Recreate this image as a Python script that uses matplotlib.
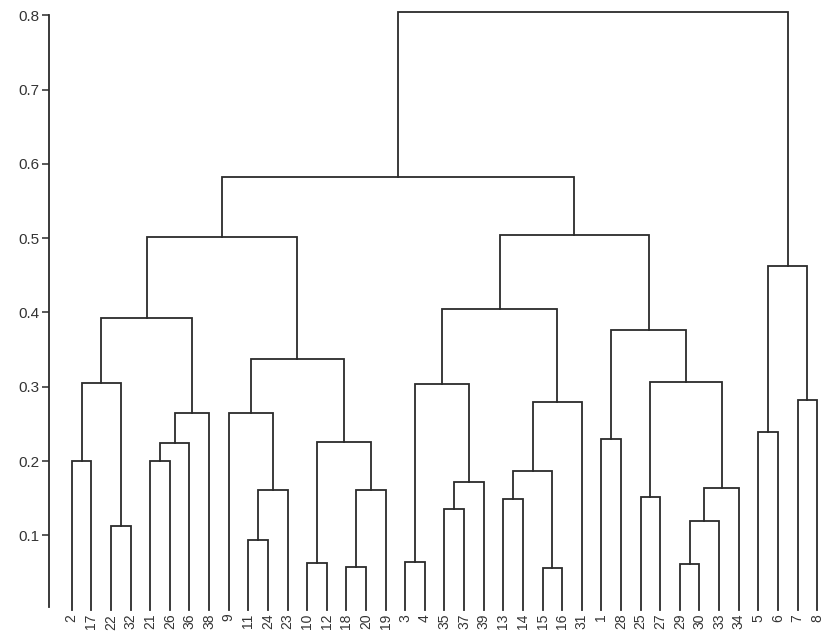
import matplotlib
matplotlib.use('Agg')
import matplotlib.pyplot as plt

# leaf order along the x axis
leaf_labels = [2, 17, 22, 32, 21, 26, 36, 38, 9, 11, 24, 23, 10, 12, 18, 20, 19,
               3, 4, 35, 37, 39, 13, 14, 15, 16, 31, 1, 28, 25, 27, 29, 30, 33, 34,
               5, 6, 7, 8]

# merges: name, left child, right child, height
merge_names = ['a1', 'a2', 'a3', 'a4', 'a5', 'a6', 'A',
               'b1', 'b2', 'b3', 'b4', 'b5', 'b6', 'b7', 'B', 'L',
               'c1', 'c2', 'c3', 'c4', 'c5', 'c6', 'c7', 'c8', 'C',
               'd1', 'd2', 'd3', 'd4', 'd5', 'd6', 'D', 'M', 'LM',
               'e1', 'e2', 'E', 'root']
merge_left = [2, 22, 'a1', 21, 'a4', 'a5', 'a3',
              11, 'b1', 9, 10, 18, 'b5', 'b4', 'b3', 'A',
              3, 35, 'c2', 'c1', 13, 15, 'c5', 'c7', 'c4',
              1, 25, 29, 'd3', 'd4', 'd2', 'd1', 'C', 'L',
              5, 7, 'e1', 'LM']
merge_right = [17, 32, 'a2', 26, 36, 38, 'a6',
               24, 23, 'b2', 12, 20, 19, 'b6', 'b7', 'B',
               4, 37, 39, 'c3', 14, 16, 'c6', 31, 'c8',
               28, 27, 30, 33, 34, 'd5', 'd6', 'D', 'M',
               6, 8, 'e2', 'E']
merge_height = [0.200, 0.112, 0.305, 0.200, 0.224, 0.265, 0.393,
                0.094, 0.161, 0.265, 0.063, 0.058, 0.161, 0.226, 0.337, 0.501,
                0.064, 0.135, 0.172, 0.304, 0.149, 0.056, 0.187, 0.280, 0.405,
                0.229, 0.151, 0.062, 0.119, 0.164, 0.307, 0.376, 0.504, 0.582,
                0.239, 0.282, 0.463, 0.805]

line_color = '#2b2b2b'

fig = plt.figure(figsize=(8.27, 6.37), dpi=100)
ax = fig.add_axes([0.059, 0.043, 0.941, 0.933])

# position and height of every node
pos = {lab: i for i, lab in enumerate(leaf_labels)}
hgt = {lab: 0.0 for lab in leaf_labels}

for name, l, r, h in zip(merge_names, merge_left, merge_right, merge_height):
    xl, xr = pos[l], pos[r]
    ax.plot([xl, xl, xr, xr], [hgt[l], h, h, hgt[r]], color=line_color,
            lw=1.3, solid_joinstyle='miter', clip_on=False)
    pos[name] = (xl + xr) / 2
    hgt[name] = h

ax.set_xlim(-1.17, 38.5)
ax.set_ylim(0, 0.8)

ax.set_xticks(range(len(leaf_labels)))
ax.set_xticklabels([str(v) for v in leaf_labels], rotation=90, fontsize=10,
                   color='#333333', family='Liberation Sans')
ax.tick_params(axis='x', length=0, pad=3)

ax.set_yticks([0.1, 0.2, 0.3, 0.4, 0.5, 0.6, 0.7, 0.8])
ax.set_yticklabels(['0.1', '0.2', '0.3', '0.4', '0.5', '0.6', '0.7', '0.8'],
                   fontsize=11, color='#333333', family='Liberation Sans')
ax.tick_params(axis='y', length=5, width=1.1, color=line_color, pad=2)

for s in ['top', 'right', 'bottom']:
    ax.spines[s].set_visible(False)
ax.spines['left'].set_color(line_color)
ax.spines['left'].set_linewidth(1.3)
ax.spines['left'].set_bounds(0.003, 0.8)

fig.savefig('out.png', dpi=100)
